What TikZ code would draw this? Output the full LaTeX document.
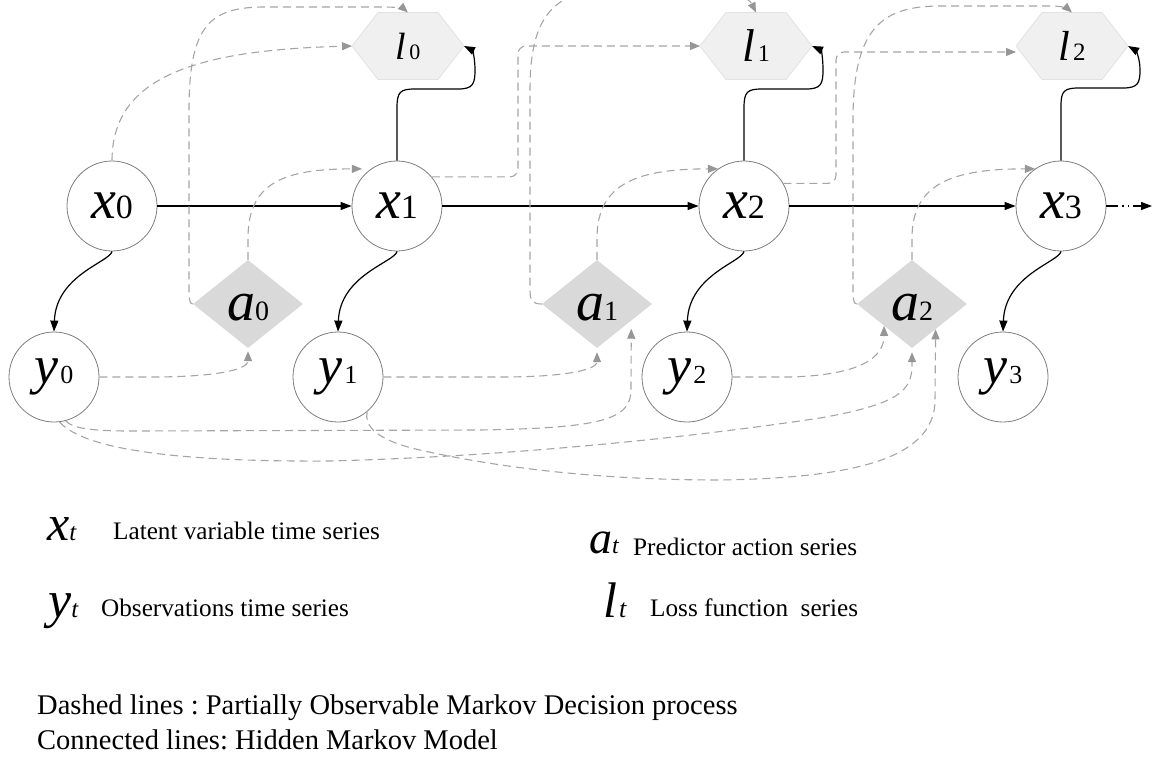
\documentclass[tikz,border=0pt]{standalone}
\usepackage{fontspec}
\setmainfont{Liberation Serif}
\newfontface\itface{Liberation Serif Italic}
\usetikzlibrary{arrows.meta,shapes.geometric,calc}
\pgfdeclarelayer{background}
\pgfsetlayers{background,main}
\definecolor{dgray}{RGB}{165,165,165}
\definecolor{agray}{RGB}{150,150,150}
\definecolor{dfill}{RGB}{217,217,217}
\definecolor{hfill}{RGB}{240,240,240}
\definecolor{hline}{RGB}{226,226,226}
\definecolor{cgray}{RGB}{125,125,125}
\newcommand{\mkx}[1]{{\itface\fontsize{56}{56}\selectfont x}{\fontsize{34}{34}\selectfont #1}}
\newcommand{\mky}[1]{{\itface\fontsize{54}{54}\selectfont y}\hspace{2pt}{\fontsize{26}{26}\selectfont #1}}
\newcommand{\mka}[1]{{\itface\fontsize{56}{56}\selectfont a}{\fontsize{28}{28}\selectfont #1}}
\newcommand{\mkl}[3]{{\itface\fontsize{#1}{#1}\selectfont l}\hspace{3pt}{\fontsize{#2}{#2}\selectfont #3}}
\frenchspacing
\begin{document}
\begin{tikzpicture}[x=1pt,y=-1pt,
  state/.style={circle, draw=cgray, line width=0.8pt, minimum size=90pt, inner sep=0pt, fill=white},
  act/.style={diamond, fill=dfill, minimum width=110pt, minimum height=88pt, inner sep=0pt, text height=32pt, text depth=0pt},
  loss/.style={minimum width=112pt, minimum height=67pt, inner sep=0pt, outer sep=0pt},
  hmm/.style={-{Triangle[length=11pt,width=8pt]}, line width=1.2pt, black},
  pomdp/.style={-{Triangle[length=10pt,width=8pt,color=agray]}, draw=dgray, line width=1.1pt, dash pattern=on 8pt off 5pt},
  legtext/.style={anchor=base west, inner sep=0pt, font=\fontsize{25.2}{30}\selectfont},
  bottext/.style={anchor=base west, inner sep=0pt, font=\fontsize{28.5}{34}\selectfont}
]
\useasboundingbox (0,0) rectangle (1156,758);
\clip (0,0) rectangle (1156,758);

% nodes
\node[state] (x0) at (112,206) {\mkx{0}};
\node[state] (x1) at (397,206) {\mkx{1}};
\node[state] (x2) at (744,206) {\mkx{2}};
\node[state] (x3) at (1061,206) {\mkx{3}};
\node[state] (y0) at (54,377) {\mky{0}};
\node[state] (y1) at (338,377) {\mky{1}};
\node[state] (y2) at (687,377) {\mky{2}};
\node[state] (y3) at (1003,377) {\mky{3}};
\node[act] (a0) at (248,304) {\mka{0}};
\node[act] (a1) at (597,304) {\mka{1}};
\node[act] (a2) at (912,304) {\mka{2}};
\node[loss] (l0) at (408,46) {\mkl{38}{22}{0}};
\node[loss] (l1) at (756,46) {\mkl{46}{24}{1}};
\node[loss] (l2) at (1072,46) {\mkl{42}{25}{2}};
\coordinate (xend) at (1152,206);

\begin{pgfonlayer}{background}
\foreach \n in {l0,l1,l2}{
  \filldraw[fill=hfill, draw=hline, line width=0.8pt] (\n.west) -- ([xshift=26pt]\n.north west) -- ([xshift=-26pt]\n.north east) -- (\n.east) -- ([xshift=-26pt]\n.south east) -- ([xshift=26pt]\n.south west) -- cycle;
}
\end{pgfonlayer}

% Hidden Markov model (solid)
\draw[hmm] (x0) -- (x1);
\draw[hmm] (x1) -- (x2);
\draw[hmm] (x2) -- (x3);
\draw[hmm, dash pattern=on 12pt off 4pt on 1.5pt off 4pt on 1.5pt off 4pt] (x3) -- (xend);
\draw[hmm] (x0.south) .. controls (110,262) and (56,275) .. (y0.north);
\draw[hmm] (x1.south) .. controls (395,262) and (340,275) .. (y1.north);
\draw[hmm] (x2.south) .. controls (742,262) and (689,275) .. (y2.north);
\draw[hmm] (x3.south) .. controls (1059,262) and (1005,275) .. (y3.north);
\draw[hmm] (x1.north) -- (397,108) .. controls (397,92) and (400,89) .. (415,89) -- (458,89) .. controls (473,89) and (475,84) .. (475,70) .. controls (475,57) and (472,50) .. (l0.east);
\draw[hmm] (x2.north) -- (744,108) .. controls (744,92) and (747,89) .. (762,89) -- (806,89) .. controls (821,89) and (823,84) .. (823,70) .. controls (823,57) and (821,50) .. (l1.east);
\draw[hmm] (x3.north) -- (1061,106) .. controls (1061,91) and (1064,88) .. (1079,88) -- (1123,88) .. controls (1138,88) and (1140,83) .. (1140,70) .. controls (1140,57) and (1135,50) .. (l2.east);

% POMDP (dashed)
\draw[pomdp] (x0.north) .. controls (112,75) and (200,50) .. (l0.west);
\draw[pomdp] (a0.west) .. controls (190,304) and (189,300) .. (189,290) -- (189,110) .. controls (189,25) and (210,7) .. (265,7) -- (385,7) .. controls (398,7) and (404,9) .. (l0.north);
\draw[pomdp] (a1.west) .. controls (532,304) and (530,300) .. (530,290) -- (530,90) .. controls (530,20) and (550,-12) .. (620,-12) -- (690,-12) .. controls (735,-12) and (750,0) .. (l1.north);
\draw[pomdp] (a2.west) .. controls (854,304) and (853,300) .. (853,290) -- (853,120) .. controls (853,30) and (880,6) .. (940,6) -- (1052,6) .. controls (1062,6) and (1068,9) .. (l2.north);
\draw[pomdp, shorten >=9pt] (a0.north) -- (248,238) .. controls (248,182) and (285,169) .. (x1.125);
\draw[pomdp] (a1.north) -- (597,238) .. controls (597,182) and (640,169) .. (x2.125);
\draw[pomdp] (a2.north) -- (912,238) .. controls (912,182) and (955,169) .. (x3.125);
\draw[pomdp, rounded corners=8pt] (x1.40) -| (518,120) |- (l1.west);
\draw[pomdp, rounded corners=8pt] (x2.30) -| (836,120) |- ([yshift=-6pt]l2.west);
\draw[pomdp, shorten >=3pt] (y0.east) -- (150,377) .. controls (225,377) and (248,368) .. (a0.south);
\draw[pomdp, shorten >=4pt] (y1.east) -- (500,377) .. controls (575,377) and (597,368) .. (a1.south);
\draw[pomdp] (y2.east) -- (790,377) .. controls (860,375) and (884,358) .. (a2.-142);
\draw[pomdp, shorten >=8pt] (y0.-75) .. controls (72,428) and (90,431) .. (130,431) -- (480,430) .. controls (600,428) and (631,420) .. (631,390) -- (a1.-26);
\draw[pomdp, shorten >=4pt] (y0.-83) .. controls (85,450) and (180,462) .. (330,461) .. controls (520,456) and (700,436) .. (820,418) .. controls (900,404) and (912,390) .. (912,365) -- (a2.south);
\draw[pomdp] (y1.-50) .. controls (364,425) and (375,440) .. (420,450) .. controls (500,468) and (600,480) .. (720,480) .. controls (850,478) and (935,460) .. (935,400) -- (a2.-47);

% legend
\node[anchor=base west, inner sep=0pt] (kx) at (47,540) {{\itface\fontsize{50}{50}\selectfont x}{\itface\fontsize{25}{25}\selectfont t}};
\node[legtext] (kxt) at (113,539) {Latent variable time series};
\node[anchor=base west, inner sep=0pt] (ky) at (48,617) {{\itface\fontsize{52}{52}\selectfont y}{\itface\fontsize{25}{25}\selectfont t}};
\node[legtext] (kyt) at (101,616) {Observations time series};
\node[anchor=base west, inner sep=0pt] (ka) at (589,553) {{\itface\fontsize{46}{46}\selectfont a}{\itface\fontsize{24}{24}\selectfont t}};
\node[legtext] (kat) at (633,555) {Predictor action series};
\node[anchor=base west, inner sep=0pt] (kl) at (603,617) {{\itface\fontsize{50}{50}\selectfont l}\hspace{2pt}{\itface\fontsize{26}{26}\selectfont t}};
\node[legtext] (klt) at (650,616) {Loss function\ \ series};
\node[bottext] (n1) at (37,714) {Dashed lines : Partially Observable Markov Decision process};
\node[bottext] (n2) at (37,749) {Connected lines: Hidden Markov Model};
\end{tikzpicture}
\end{document}
